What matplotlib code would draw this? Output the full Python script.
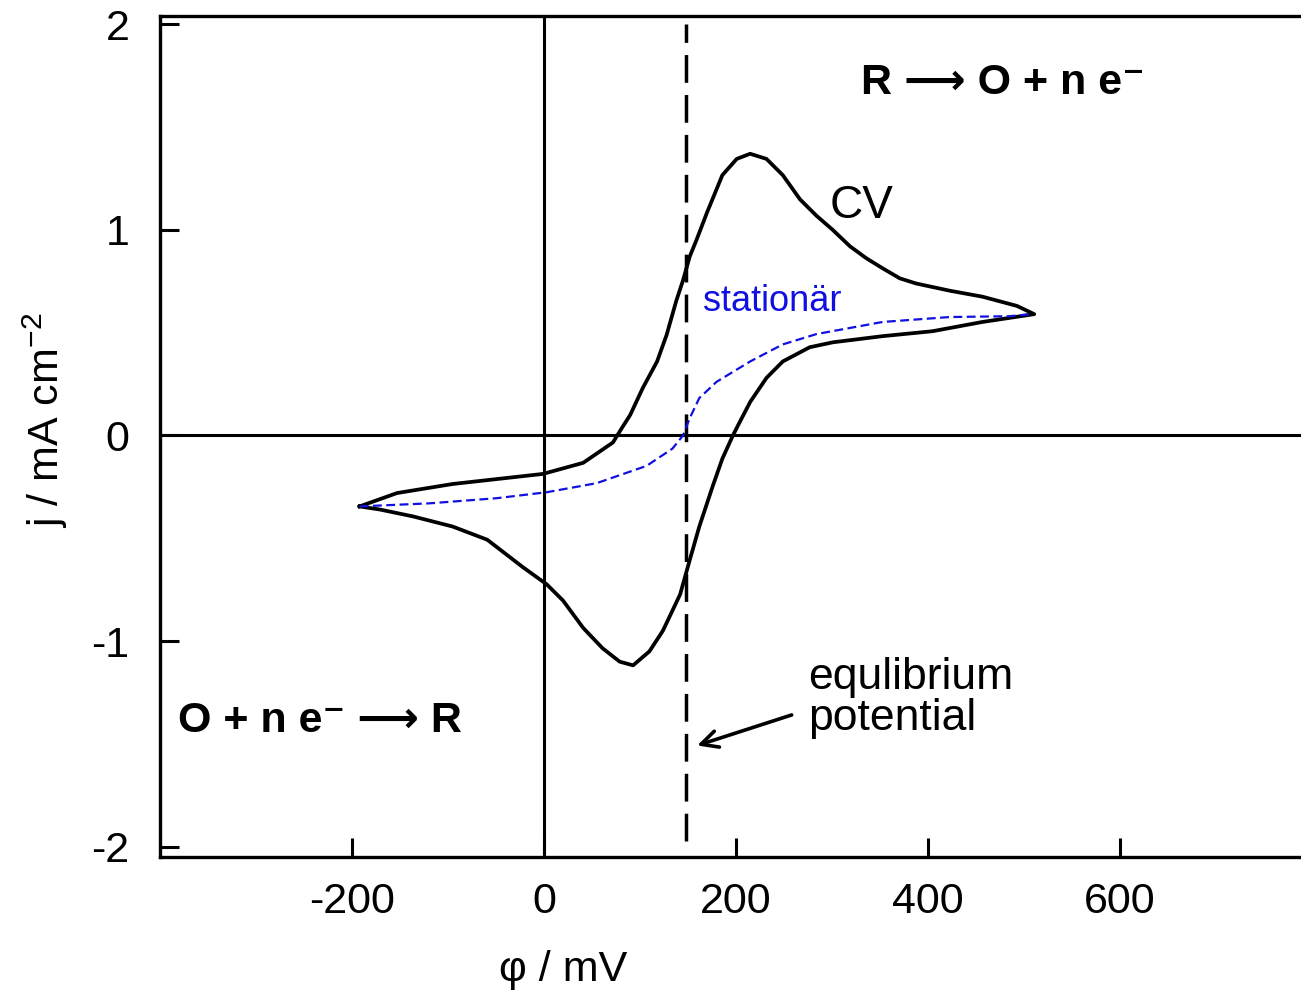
import numpy as np
import matplotlib
matplotlib.use("Agg")
import matplotlib.pyplot as plt

plt.rcParams['font.family'] = ['Liberation Sans', 'DejaVu Sans']
plt.rcParams['mathtext.fontset'] = 'custom'
plt.rcParams['mathtext.rm'] = 'Liberation Sans'
plt.rcParams['mathtext.bf'] = 'Liberation Sans:bold'
plt.rcParams['axes.unicode_minus'] = False

# --- CV (Zyklovoltammogramm): Hinlauf, dann Rücklauf ---
cv_phi = [-192, -153, -95, -49, -1, 41, 72, 81, 90, 103, 118, 128, 138, 145, 152, 159,
          170, 186, 201, 215, 232, 249, 267, 284, 301, 319, 336, 353, 371, 388, 423, 457,
          493, 511,
          457, 405, 353, 301, 277, 249, 232, 215, 204, 197, 186, 176, 162, 152, 142, 124,
          110, 93, 79, 61, 41, 20, 3, -22, -59, -95, -136, -171, -192]
cv_j = [-0.345, -0.28, -0.236, -0.212, -0.187, -0.133, -0.034, 0.034, 0.10, 0.23, 0.36,
        0.49, 0.655, 0.754, 0.87, 0.95, 1.084, 1.266, 1.345, 1.37, 1.345, 1.266, 1.148,
        1.069, 1.0, 0.92, 0.862, 0.813, 0.764, 0.739, 0.704, 0.675, 0.63, 0.59,
        0.552, 0.507, 0.483, 0.453, 0.429, 0.36, 0.28, 0.163, 0.064, 0.0, -0.113, -0.246,
        -0.443, -0.606, -0.773, -0.95, -1.05, -1.118, -1.10, -1.034, -0.936, -0.803,
        -0.724, -0.64, -0.507, -0.443, -0.394, -0.36, -0.345]

# --- stationäre Kurve ---
stat_phi = [-192, -119, -49, 3, 55, 107, 134, 145, 152, 162, 180, 215, 249, 284, 353, 423, 485, 509]
stat_j = [-0.345, -0.33, -0.305, -0.276, -0.232, -0.148, -0.064, 0.0, 0.084, 0.182, 0.261,
          0.36, 0.443, 0.493, 0.552, 0.576, 0.58, 0.59]

E_eq = 148  # Gleichgewichtspotential, mV
x_ticks = [-200, 0, 200, 400, 600]
y_ticks = [-2, -1, 0, 1, 2]

fig = plt.figure(figsize=(13.01, 9.97), dpi=100)
ax = fig.add_axes([160 / 1301, 1 - 857 / 997, 1 - 160 / 1301, (857 - 16) / 997])

ax.set_xlim(-400, 789)
ax.set_ylim(-2.05, 2.04)

# Achsenkreuz
ax.axhline(0, color='black', lw=2.2, zorder=1)
ax.axvline(0, color='black', lw=2.2, zorder=1)
ax.vlines(E_eq, -1.97, 2.0, color='black', lw=2.5, linestyles=(0, (8, 3.5)), zorder=2)

ax.plot(cv_phi, cv_j, color='black', lw=2.7, zorder=3, solid_joinstyle='round')
ax.plot(stat_phi, stat_j, color='#1010e0', lw=1.6, ls=(0, (4, 2)), zorder=4)

for s in ['top', 'left', 'bottom']:
    ax.spines[s].set_linewidth(2.4)
ax.spines['right'].set_visible(False)

ax.set_xticks(x_ticks)
ax.set_yticks(y_ticks)
ax.tick_params(direction='in', length=14, width=2.2, labelsize=31, pad=18)
ax.tick_params(axis='y', pad=22)
ax.tick_params(top=False, right=False)

ax.text(331, 1.66, 'R \u27f6 O + n e\u207b', fontsize=31, fontweight='bold',
        ha='left', va='baseline')
ax.text(-381, -1.44, 'O + n e\u207b \u27f6 R', fontsize=31, fontweight='bold',
        ha='left', va='baseline')
ax.text(298, 1.06, 'CV', fontsize=33, ha='left', va='baseline')
ax.text(166, 0.606, 'station\u00e4r', fontsize=26, color='#1010e0', ha='left', va='baseline')
ax.text(275, -1.075, 'equlibrium\npotential', fontsize=32, ha='left', va='top', linespacing=1.0)

ax.annotate('', xy=(157, -1.512), xytext=(261, -1.355),
            arrowprops=dict(arrowstyle='->', color='black', lw=2.6, mutation_scale=30))

fig.text(563 / 1301, 1 - 970 / 997, '\u03c6 / mV', fontsize=31, ha='center', va='center')
fig.text(45 / 1301, 1 - 420 / 997, 'j / mA cm$^{-2}$', fontsize=31, rotation=90,
         ha='center', va='center')

fig.savefig('out.png', dpi=100)
